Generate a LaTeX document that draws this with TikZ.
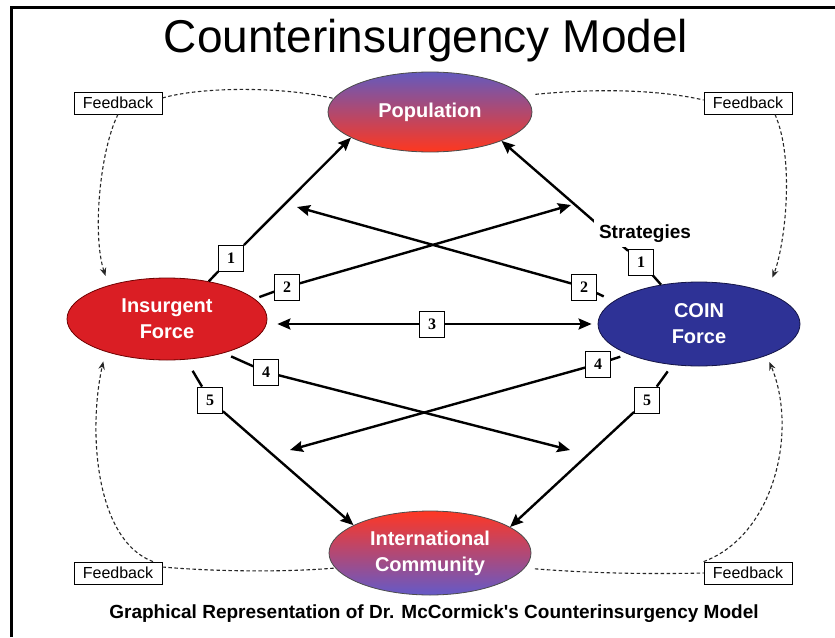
\documentclass[tikz,border=0pt]{standalone}
\usepackage{fontspec}
\setmainfont{Liberation Sans}
\newfontfamily\capfont{Liberation Sans}[Ligatures=TeXOff]
\newfontfamily\serifdig{Liberation Serif}
\usetikzlibrary{arrows.meta,shapes.geometric}
\definecolor{poptop}{RGB}{100,90,190}
\definecolor{popbot}{RGB}{255,55,30}
\definecolor{intop}{RGB}{255,55,35}
\definecolor{inbot}{RGB}{100,90,200}
\definecolor{insfill}{RGB}{218,30,36}
\definecolor{insdraw}{RGB}{110,0,0}
\definecolor{coinfill}{RGB}{46,50,150}
\definecolor{coindraw}{RGB}{20,20,70}
\begin{document}
\begin{tikzpicture}[x=1pt,y=-1pt,
  ell/.style={ellipse, line width=0.8pt, inner sep=0pt, text=white,
    font=\fontsize{20}{26}\selectfont\bfseries, align=center},
  fbbox/.style={draw, line width=0.8pt, fill=white, minimum width=88pt,
    minimum height=22pt, inner sep=0pt, font=\fontsize{16}{18}\selectfont},
  numbox/.style={draw, line width=0.8pt, fill=white, minimum width=25pt,
    minimum height=26pt, inner sep=0pt, font=\serifdig\fontsize{16}{16}\selectfont\bfseries},
  conn/.style={line width=2.4pt},
  arr/.style={conn, -{Stealth[length=13pt,width=11pt,inset=2pt]}},
  fbl/.style={line width=1.1pt, dash pattern=on 3.5pt off 2.5pt, black!85},
  fba/.style={fbl, -{Stealth[length=8pt,width=6.5pt]}}
]
\useasboundingbox (0,0) rectangle (835,637);
\fill[white] (0,0) rectangle (835,637);
% frame
\draw[line width=3pt] (11,637) -- (11,7) -- (835,7);

% title and caption
\node[anchor=base] (title) at (426,52) {\fontsize{46}{46}\selectfont Counterinsurgency Model};
\node[anchor=base] (caption) at (434,618) {\capfont\fontsize{19}{19}\selectfont\bfseries Graphical Representation of Dr. McCormick's Counterinsurgency Model};

% main ellipses
\node[ell, draw=black!70, top color=poptop, bottom color=popbot,
  minimum width=204pt, minimum height=80pt] (pop) at (430,112) {Population};
\node[ell, draw=insdraw, fill=insfill,
  minimum width=200pt, minimum height=82pt] (ins) at (167,319) {Insurgent\\Force};
\node[ell, draw=coindraw, fill=coinfill,
  minimum width=202pt, minimum height=84pt] (coin) at (699,324) {COIN\\Force};
\node[ell, draw=black!70, top color=intop, bottom color=inbot,
  minimum width=202pt, minimum height=84pt] (intl) at (430,553) {International\\Community};

% feedback boxes
\node[fbbox] (fbTL) at (118,103) {Feedback};
\node[fbbox] (fbTR) at (748,103) {Feedback};
\node[fbbox] (fbBL) at (118,573) {Feedback};
\node[fbbox] (fbBR) at (748,573) {Feedback};

% number boxes
\node[numbox] (b1i) at (231,258) {1};
\node[numbox] (b2i) at (287,287) {2};
\node[numbox] (b3)  at (432,324) {3};
\node[numbox] (b4i) at (266,372) {4};
\node[numbox] (b5i) at (210,400) {5};
\node[numbox] (b1c) at (641,262) {1};
\node[numbox] (b2c) at (584,287) {2};
\node[numbox] (b4c) at (598,364) {4};
\node[numbox] (b5c) at (647,400) {5};

% free ends
\coordinate (e2i) at (571,205);
\coordinate (e2c) at (297,207);
\coordinate (e4i) at (570,450);
\coordinate (e4c) at (290,450);

% strategy connectors
\draw[conn] (ins.42) -- (b1i);
\draw[arr] (b1i) -- (pop.-162);
\draw[conn, shorten <=5pt] (ins.13) -- (b2i);
\draw[arr] (b2i) -- (e2i);
\draw[conn, shorten <=11pt] (coin.165) -- (b2c);
\draw[arr] (b2c) -- (e2c);
\draw[arr, shorten >=10pt] (b3) -- (b3 -| ins.east);
\draw[arr, shorten >=6pt] (b3) -- (b3 -| coin.west);
\draw[conn, shorten <=8pt] (ins.-31) -- (b4i);
\draw[arr] (b4i) -- (e4i);
\draw[conn, shorten <=8pt] (coin.-157) -- (b4c);
\draw[arr] (b4c) -- (e4c);
\draw[conn, shorten <=13pt] (ins.-65) -- (b5i);
\draw[arr] (b5i) -- (intl.160);
\draw[conn, shorten <=8pt] (coin.-123) -- (b5c);
\draw[arr] (b5c) -- (intl.18);
\draw[conn] (coin.134) -- (b1c);
\draw[arr] (b1c) -- (pop.-22);
\node[anchor=base, fill=white, inner sep=5pt, font=\fontsize{19}{19}\selectfont\bfseries] (strat) at (645,238) {Strategies};

% feedback loops
\draw[fbl] ([yshift=5pt]fbTL.east) .. controls (200,87) and (280,86) .. (pop.172);
\draw[fba, shorten >=10pt] (fbTL.south) .. controls (100,150) and (92,235) .. (ins.150);
\draw[fbl, shorten <=12pt] (pop.10) .. controls (600,88) and (660,90) .. ([yshift=3pt]fbTR.west);
\draw[fba, shorten >=16pt] ([xshift=27pt]fbTR.south) .. controls (795,160) and (785,245) .. (coin.25);
\draw[fbl] ([yshift=6pt]fbBL.east) .. controls (220,572) and (290,572) .. (intl.-171);
\draw[fba, shorten >=10pt] ([xshift=35pt]fbBL.north) .. controls (95,540) and (88,430) .. (ins.-152);
\draw[fbl, shorten <=10pt] (intl.-9) .. controls (600,574) and (660,574) .. (fbBR.west);
\draw[fba, shorten >=7pt] (fbBR.north west) .. controls (775,535) and (798,430) .. (coin.-25);
\end{tikzpicture}
\end{document}
